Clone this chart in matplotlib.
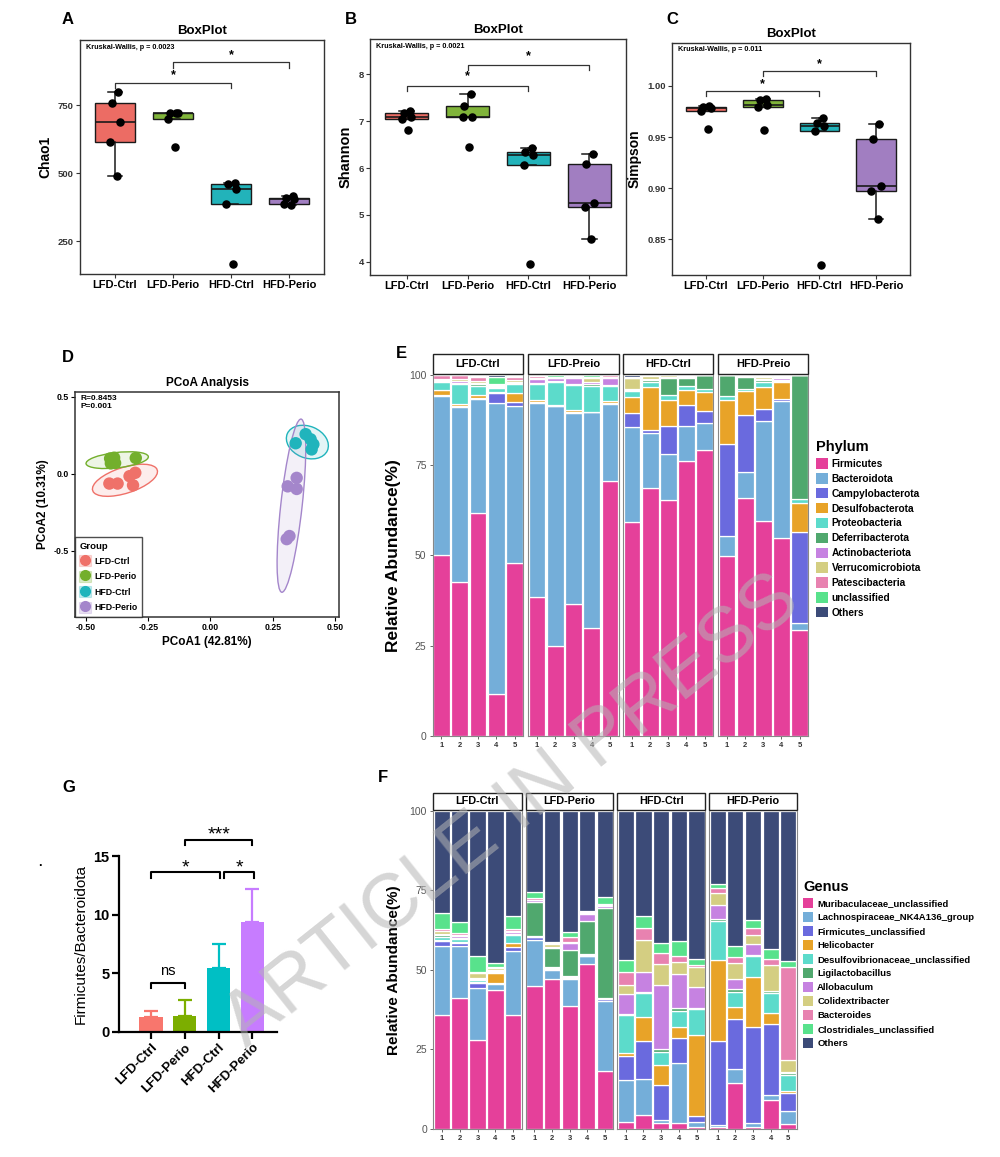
import numpy as np
import matplotlib
matplotlib.use('Agg')
import matplotlib.pyplot as plt
from matplotlib.patches import Ellipse, Patch, Rectangle
from matplotlib.lines import Line2D

plt.rcParams['font.family'] = ['Liberation Sans', 'DejaVu Sans']
plt.rcParams['font.weight'] = 'bold'
plt.rcParams['axes.labelweight'] = 'bold'
plt.rcParams['axes.titleweight'] = 'bold'

# ---------------- data ----------------
groups = ['LFD-Ctrl', 'LFD-Perio', 'HFD-Ctrl', 'HFD-Perio']

chao1 = [[800, 760, 688, 616, 491],
         [722, 721, 720, 699, 597],
         [466, 460, 443, 388, 166],
         [415, 410, 405, 386, 383]]
shannon = [[7.21, 7.18, 7.08, 7.05, 6.82],
           [7.57, 7.32, 7.09, 7.08, 6.45],
           [6.42, 6.34, 6.28, 6.07, 3.96],
           [6.29, 6.08, 5.25, 5.17, 4.48]]
simpson = [[0.980, 0.979, 0.978, 0.975, 0.958],
           [0.987, 0.986, 0.981, 0.979, 0.957],
           [0.969, 0.964, 0.961, 0.956, 0.825],
           [0.963, 0.948, 0.902, 0.897, 0.870]]

# PCoA coordinates
pc1_lfd_ctrl = [-0.406, -0.373, -0.325, -0.302, -0.311]
pc2_lfd_ctrl = [-0.063, -0.063, -0.015, 0.007, -0.074]
pc1_lfd_perio = [-0.403, -0.387, -0.400, -0.383, -0.300]
pc2_lfd_perio = [0.100, 0.105, 0.068, 0.070, 0.103]
pc1_hfd_ctrl = [0.342, 0.382, 0.402, 0.413, 0.406]
pc2_hfd_ctrl = [0.199, 0.258, 0.225, 0.192, 0.159]
pc1_hfd_perio = [0.346, 0.310, 0.346, 0.306, 0.317]
pc2_hfd_perio = [-0.026, -0.081, -0.098, -0.424, -0.404]

# phylum relative abundance (%) ; samples: 4 groups x 5
phylum_names = ['Firmicutes', 'Bacteroidota', 'Campylobacterota', 'Desulfobacterota',
                'Proteobacteria', 'Deferribacterota', 'Actinobacteriota',
                'Verrucomicrobiota', 'Patescibacteria', 'unclassified', 'Others']
firmicutes = [50.0, 42.7, 61.6, 11.6, 48.0, 38.4, 25.0, 36.4, 30.0, 70.5, 59.2, 68.6, 65.2, 76.2, 79.1, 49.9, 65.9, 59.6, 54.8, 29.3]
bacteroidota = [44.0, 48.3, 31.6, 80.5, 43.3, 53.9, 66.2, 52.9, 59.6, 21.3, 26.3, 15.4, 12.8, 9.5, 7.4, 5.4, 7.1, 27.7, 38.0, 1.9]
campylobacterota = [0.4, 0.4, 0.4, 2.7, 1.2, 0.2, 0.2, 0.5, 0.1, 0.3, 3.8, 0.8, 7.8, 6.0, 3.5, 25.4, 15.8, 3.3, 0.4, 25.3]
desulfobacterota = [1.5, 0.6, 0.8, 0.5, 2.3, 0.5, 0.3, 0.3, 0.1, 0.5, 4.5, 11.9, 7.2, 4.0, 5.2, 12.3, 6.7, 6.0, 4.8, 8.1]
proteobacteria = [2.0, 5.5, 2.6, 1.0, 2.5, 4.5, 6.3, 7.1, 7.2, 4.4, 1.7, 1.3, 1.3, 1.1, 0.8, 1.0, 0.5, 1.5, 0.3, 0.9]
deferribacterota = [0.3, 0.3, 0.3, 0.3, 0.3, 0.3, 0.2, 0.2, 0.3, 0.2, 0.3, 0.5, 4.7, 2.2, 3.8, 6.0, 3.3, 0.3, 0.3, 34.5]
actinobacteriota = [0.3, 0.5, 0.5, 0.3, 0.3, 1.0, 0.8, 1.7, 0.8, 2.0, 0.2, 0.3, 0.3, 0.3, 0.1, 0.0, 0.3, 0.3, 0.5, 0.0]
verrucomicrobiota = [0.3, 0.5, 0.5, 0.3, 0.5, 0.3, 0.2, 0.3, 1.0, 0.3, 3.0, 0.8, 0.5, 0.3, 0.0, 0.0, 0.2, 0.8, 0.3, 0.0]
patescibacteria = [1.0, 1.0, 1.2, 0.3, 1.0, 0.5, 0.3, 0.3, 0.3, 0.3, 0.2, 0.2, 0.1, 0.2, 0.0, 0.0, 0.0, 0.2, 0.3, 0.0]
phy_unclassified = [0.2, 0.2, 0.2, 2.0, 0.3, 0.4, 0.3, 0.3, 0.4, 0.2, 0.1, 0.2, 0.1, 0.1, 0.0, 0.0, 0.0, 0.1, 0.1, 0.0]
phy_others = [0.0, 0.0, 0.3, 0.5, 0.3, 0.0, 0.2, 0.0, 0.2, 0.0, 0.7, 0.0, 0.0, 0.1, 0.1, 0.0, 0.2, 0.2, 0.2, 0.0]

# genus relative abundance (%)
genus_names = ['Muribaculaceae_unclassified', 'Lachnospiraceae_NK4A136_group',
               'Firmicutes_unclassified', 'Helicobacter', 'Desulfovibrionaceae_unclassified',
               'Ligilactobacillus', 'Allobaculum', 'Colidextribacter', 'Bacteroides',
               'Clostridiales_unclassified', 'Others']
muribaculaceae = [35.7, 41.0, 27.9, 43.6, 35.8, 45.0, 47.0, 38.6, 51.7, 18.3, 2.3, 4.3, 2.0, 1.8, 0.5, 0.5, 14.3, 0.6, 9.0, 1.5]
lachnospiraceae = [21.9, 16.6, 16.5, 1.9, 20.0, 14.5, 2.8, 8.6, 2.5, 21.9, 13.2, 11.5, 0.8, 18.9, 1.7, 0.7, 4.5, 1.2, 1.8, 4.3]
firmicutes_unc = [1.4, 0.8, 1.6, 0.5, 1.4, 0.7, 0.5, 0.3, 0.3, 0.6, 7.5, 11.8, 11.0, 7.9, 2.0, 26.3, 15.7, 30.2, 22.2, 5.6]
helicobacter = [0.5, 0.3, 0.3, 2.9, 1.3, 0.2, 0.3, 0.3, 0.2, 0.1, 1.0, 7.6, 6.2, 3.4, 25.2, 25.7, 3.7, 15.6, 3.6, 0.6]
desulfovibrionaceae = [0.8, 1.0, 0.5, 0.5, 2.5, 0.3, 0.3, 0.3, 0.2, 0.1, 11.7, 7.4, 4.3, 5.2, 8.2, 12.3, 4.8, 6.9, 6.2, 5.0]
ligilactobacillus = [0.5, 0.4, 0.3, 0.3, 0.3, 10.6, 5.9, 8.1, 10.6, 28.5, 0.5, 0.5, 0.7, 0.8, 0.4, 0.5, 1.0, 0.3, 0.4, 0.5]
allobaculum = [0.5, 0.4, 0.3, 0.3, 0.5, 0.5, 0.5, 2.2, 2.0, 0.5, 6.3, 6.1, 20.3, 10.7, 6.5, 4.3, 3.0, 3.4, 0.3, 0.5]
colidextribacter = [0.8, 0.5, 1.5, 0.5, 0.5, 0.3, 0.7, 0.5, 0.3, 0.3, 2.7, 10.1, 6.4, 3.8, 6.5, 3.9, 5.0, 2.6, 8.0, 3.6]
bacteroides = [0.7, 0.5, 0.5, 0.3, 0.5, 0.5, 0.3, 1.5, 0.3, 0.5, 4.1, 3.7, 3.6, 2.0, 0.5, 1.6, 2.0, 2.5, 1.8, 29.4]
clostridiales = [5.2, 3.5, 5.1, 1.4, 4.2, 1.9, 0.5, 1.5, 0.3, 2.2, 3.7, 4.0, 3.2, 4.5, 2.0, 1.2, 3.5, 2.4, 3.2, 1.8]
gen_others = [32.0, 35.0, 45.5, 47.8, 33.0, 25.5, 41.2, 38.1, 31.6, 27.0, 47.0, 33.0, 41.5, 41.0, 46.5, 23.0, 42.5, 34.3, 43.5, 47.2]

# Firmicutes/Bacteroidota ratio
fb_mean = [1.28, 1.32, 5.45, 9.37]
fb_sd = [0.50, 1.35, 2.02, 2.85]

# ---------------- styles ----------------
box_colors = ['#EC6C64', '#80B43A', '#22B3BA', '#A17EC1']
pcoa_colors = ['#EF7169', '#73AF2C', '#20B4BC', '#A486CB']
bar_colors = ['#F8766D', '#7CAE00', '#00BFC4', '#C77CFF']
taxa_colors = ['#E5409A', '#74AED9', '#6A6ADE', '#E8A328', '#5CDBCB', '#50A86E',
               '#C682E1', '#D4CE82', '#E882B0', '#58E28C', '#3C4B78']

W, H = 1000, 1157
fig = plt.figure(figsize=(W / 100, H / 100), dpi=100)


def px(l, t, r, b):
    return [l / W, 1 - b / H, (r - l) / W, (b - t) / H]


def letter(x, y, s):
    fig.text(x / W, 1 - y / H, s, fontsize=12, fontweight='bold', va='center', ha='left')


jit = [0.06, -0.05, 0.08, -0.08, 0.03]


def boxpanel(rect, data, ylim, yticks, yfmt, ylab, ylab_fs, kw, brackets, star_off):
    ax = fig.add_axes(rect)
    bp = ax.boxplot(data, positions=[1, 2, 3, 4], widths=0.7, patch_artist=True,
                    showfliers=False, capwidths=0.25,
                    medianprops=dict(color='#1a1a1a', lw=1.2),
                    whiskerprops=dict(color='#1a1a1a', lw=1.1),
                    capprops=dict(color='#1a1a1a', lw=1.1),
                    boxprops=dict(edgecolor='#1a1a1a', lw=1.0))
    for patch, c in zip(bp['boxes'], box_colors):
        patch.set_facecolor(c)
    for i, vals in enumerate(data):
        ax.scatter(np.array(jit) + i + 1, vals, s=26, color='black', zorder=3)
    ax.set_xlim(0.4, 4.6)
    ax.set_ylim(ylim)
    ax.set_xticks([1, 2, 3, 4], groups, fontsize=8)
    ax.set_yticks(yticks, [yfmt.format(v) for v in yticks], fontsize=6.8, color='#333333')
    ax.tick_params(length=3, width=0.8, color='#333333', pad=1.5)
    ax.set_ylabel(ylab, fontsize=ylab_fs, labelpad=4)
    ax.set_title('BoxPlot', fontsize=9.5, pad=4)
    ax.text(0.025, 0.985, kw, transform=ax.transAxes, fontsize=5.2, va='top', ha='left')
    for (x1, x2, y, h) in brackets:
        ax.plot([x1, x1, x2, x2], [y - h, y, y, y - h], color='#333333', lw=0.9)
        ax.text((x1 + x2) / 2, y + star_off, '*', ha='center', va='center', fontsize=9)
    for s in ax.spines.values():
        s.set_color('#333333'); s.set_linewidth(1.0)
    return ax


# ---------------- A, B, C ----------------
letter(62, 20, 'A'); letter(345, 20, 'B'); letter(666, 20, 'C')
boxpanel(px(80, 40, 324, 274), chao1, (130, 990), [250, 500, 750], '{:.0f}', 'Chao1', 10,
         'Kruskal-Wallis, p = 0.0023', [(1, 3, 832, 20), (2, 4, 908, 20)], 28)
boxpanel(px(370, 39, 626, 275), shannon, (3.72, 8.75), [4, 5, 6, 7, 8], '{:.0f}', 'Shannon', 10.5,
         'Kruskal-Wallis, p = 0.0021', [(1, 3, 7.75, 0.1), (2, 4, 8.19, 0.1)], 0.2)
boxpanel(px(672, 43, 910, 275), simpson, (0.815, 1.042), [0.85, 0.90, 0.95, 1.00], '{:.2f}', 'Simpson', 10,
         'Kruskal-Wallis, p = 0.011', [(1, 3, 0.9948, 0.005), (2, 4, 1.0143, 0.005)], 0.007)

# ---------------- D: PCoA ----------------
letter(62, 357, 'D')
ax = fig.add_axes(px(75, 392, 339, 617))
pcoa = [(pc1_lfd_ctrl, pc2_lfd_ctrl), (pc1_lfd_perio, pc2_lfd_perio),
        (pc1_hfd_ctrl, pc2_hfd_ctrl), (pc1_hfd_perio, pc2_hfd_perio)]
handles = []
for (xs, ys), c, g in zip(pcoa, pcoa_colors, groups):
    xs = np.array(xs); ys = np.array(ys)
    n = len(xs)
    cov = np.cov(xs, ys)
    vals, vecs = np.linalg.eigh(cov)
    rad = np.sqrt((n - 1) * (0.1 ** (-2 / (n - 1)) - 1))
    ang = np.degrees(np.arctan2(vecs[1, 1], vecs[0, 1]))
    ax.add_patch(Ellipse((xs.mean(), ys.mean()), 2 * rad * np.sqrt(vals[1]), 2 * rad * np.sqrt(vals[0]),
                         angle=ang, fc=c, alpha=0.12, ec='none'))
    ax.add_patch(Ellipse((xs.mean(), ys.mean()), 2 * rad * np.sqrt(vals[1]), 2 * rad * np.sqrt(vals[0]),
                         angle=ang, fc='none', ec=c, lw=1.0))
    ax.scatter(xs, ys, s=80, color=c, zorder=3, edgecolor='none')
    handles.append((Patch(fc=c, alpha=0.25, ec=c, lw=0.8),
                    Line2D([], [], marker='o', ls='', color=c, ms=7)))
ax.set_xlim(-0.544, 0.516)
ax.set_ylim(-0.93, 0.532)
ax.set_xticks([-0.5, -0.25, 0, 0.25, 0.5], ['-0.50', '-0.25', '0.00', '0.25', '0.50'], fontsize=6.3)
ax.set_yticks([-0.5, 0, 0.5], ['-0.5', '0.0', '0.5'], fontsize=6.3)
ax.tick_params(length=3, width=0.8, pad=1.5)
ax.set_xlabel('PCoA1 (42.81%)', fontsize=8.5, labelpad=3)
ax.set_ylabel('PCoA2 (10.31%)', fontsize=8.5, labelpad=3)
ax.set_title('PCoA Analysis', fontsize=8.5, pad=4)
ax.text(0.02, 0.985, 'R=0.8453\nP=0.001', transform=ax.transAxes, fontsize=6, va='top', ha='left',
        linespacing=1.2)
for s in ax.spines.values():
    s.set_color('#333333'); s.set_linewidth(1.1)
leg = ax.legend(handles, groups, title='Group', loc='lower left', fontsize=6.3, title_fontsize=6.8,
                frameon=True, fancybox=False, edgecolor='#222222', borderaxespad=0,
                handlelength=1.3, handleheight=1.5, labelspacing=0.55, handletextpad=0.4, borderpad=0.5)
leg.get_frame().set_linewidth(1.0)
leg._legend_box.align = 'left'

# ---------------- E, F: stacked bars ----------------
phylum_vals = [firmicutes, bacteroidota, campylobacterota, desulfobacterota, proteobacteria,
               deferribacterota, actinobacteriota, verrucomicrobiota, patescibacteria,
               phy_unclassified, phy_others]
genus_vals = [muribaculaceae, lachnospiraceae, firmicutes_unc, helicobacter, desulfovibrionaceae,
              ligilactobacillus, allobaculum, colidextribacter, bacteroides, clostridiales, gen_others]


def stacked(xranges, top, bottom, strip_top, vals, strips, ylab_fs, strip_fs):
    allv = np.array(vals)
    for k, (l, r) in enumerate(xranges):
        ax = fig.add_axes(px(l, top, r, bottom))
        sub = allv[:, k * 5:(k + 1) * 5]
        base = np.zeros(5)
        for row, c in zip(sub, taxa_colors):
            ax.bar(np.arange(5), row, bottom=base, width=0.92, color=c, edgecolor='white', lw=0.9)
            base = base + row
        ax.set_xlim(-0.48, 4.48)
        ax.set_ylim(0, 100)
        ax.set_xticks(np.arange(5), ['1', '2', '3', '4', '5'], fontsize=5.5, color='#333333')
        ax.tick_params(axis='x', length=2.5, width=0.7, color='#666666', pad=2)
        ax.spines['top'].set_visible(False)
        for s in ['left', 'right', 'bottom']:
            ax.spines[s].set_color('#888888'); ax.spines[s].set_linewidth(0.8)
        if k == 0:
            ax.set_yticks([0, 25, 50, 75, 100], ['0', '25', '50', '75', '100'],
                          fontsize=7.5, color='#555555', fontweight='normal')
            ax.tick_params(axis='y', length=2.5, width=0.7, color='#666666', pad=2)
            ax.set_ylabel('Relative Abundance(%)', fontsize=ylab_fs, labelpad=6)
        else:
            ax.set_yticks([])
        sh = (top - strip_top) / (bottom - top)
        ax.add_patch(Rectangle((0, 1.003), 1, sh, transform=ax.transAxes, clip_on=False,
                               fc='white', ec='#222222', lw=1.0))
        ax.text(0.5, 1.003 + sh / 2, strips[k], transform=ax.transAxes, ha='center', va='center',
                fontsize=strip_fs)


letter(396, 353, 'E')
stacked([(432.7, 523.3), (528.3, 618.7), (623.3, 713.3), (718.3, 808.3)], 374.7, 736, 355,
        phylum_vals, ['LFD-Ctrl', 'LFD-Preio', 'HFD-Ctrl', 'HFD-Preio'], 12.5, 8)
leg = fig.legend([Patch(fc=c, ec='none') for c in taxa_colors], phylum_names, title='Phylum',
                 loc='upper left', bbox_to_anchor=(816 / W, 1 - 440 / H), frameon=False,
                 fontsize=7.3, title_fontsize=10.5, handlelength=1.15, handleheight=1.2,
                 handletextpad=0.4, labelspacing=0.42, borderpad=0, borderaxespad=0)
leg._legend_box.align = 'left'

letter(378, 777, 'F')
stacked([(433.3, 521.7), (526, 613.3), (617.3, 705), (709.3, 796.7)], 810.7, 1129, 793.5,
        genus_vals, ['LFD-Ctrl', 'LFD-Perio', 'HFD-Ctrl', 'HFD-Perio'], 11, 7.8)
leg = fig.legend([Patch(fc=c, ec='none') for c in taxa_colors], genus_names, title='Genus',
                 loc='upper left', bbox_to_anchor=(803 / W, 1 - 880 / H), frameon=False,
                 fontsize=6.8, title_fontsize=10.5, handlelength=1.1, handleheight=1.2,
                 handletextpad=0.4, labelspacing=0.42, borderpad=0, borderaxespad=0)
leg._legend_box.align = 'left'

# ---------------- G: F/B ratio ----------------
letter(62, 788, 'G')
fig.text(38 / W, 1 - 866 / H, '.', fontsize=9)
ax = fig.add_axes(px(119, 856, 277, 1031.7))
xg = np.arange(4)
ax.bar(xg, fb_mean, width=0.69, color=bar_colors, zorder=2)
for i in range(4):
    ax.errorbar(xg[i], fb_mean[i], yerr=[[0], [fb_sd[i]]], color=bar_colors[i], capsize=5,
                elinewidth=1.6, capthick=1.6, zorder=1)
ax.set_xlim(-0.95, 3.73)
ax.set_ylim(0, 15)
ax.set_yticks([0, 5, 10, 15], ['0', '5', '10', '15'], fontsize=10.5)
ax.set_xticks(xg)
ax.set_xticklabels(groups, rotation=45, ha='right', rotation_mode='anchor', fontsize=9.5)
ax.tick_params(length=5, width=1.6, pad=2)
for s in ['top', 'right']:
    ax.spines[s].set_visible(False)
for s in ['left', 'bottom']:
    ax.spines[s].set_linewidth(1.6)
ax.set_ylabel('Firmicutes/Bacteroidota', fontsize=11, fontweight='normal', labelpad=4)
sig = [(0, 1, 4.2, 0.45, 'ns', 10.5, 0.4),
       (0, 2.03, 13.6, 0.45, '*', 14, -0.35),
       (2.17, 3.05, 13.6, 0.45, '*', 14, -0.35),
       (1, 3, 16.4, 0.45, '***', 14, -0.35)]
for x1, x2, y, h, s, fs, off in sig:
    ax.plot([x1, x1, x2, x2], [y - h, y, y, y - h], color='black', lw=1.5, clip_on=False)
    ax.text((x1 + x2) / 2, y + off, s, ha='center', va='bottom', fontsize=fs,
            fontweight='normal', clip_on=False)

# watermark
fig.text(512 / W, 1 - 812 / H, 'ARTICLE IN PRESS', rotation=38.5, fontsize=56, fontweight='normal',
         color='#b4b4b4', alpha=0.55, ha='center', va='center', rotation_mode='anchor')

fig.savefig('out.png', dpi=100)
